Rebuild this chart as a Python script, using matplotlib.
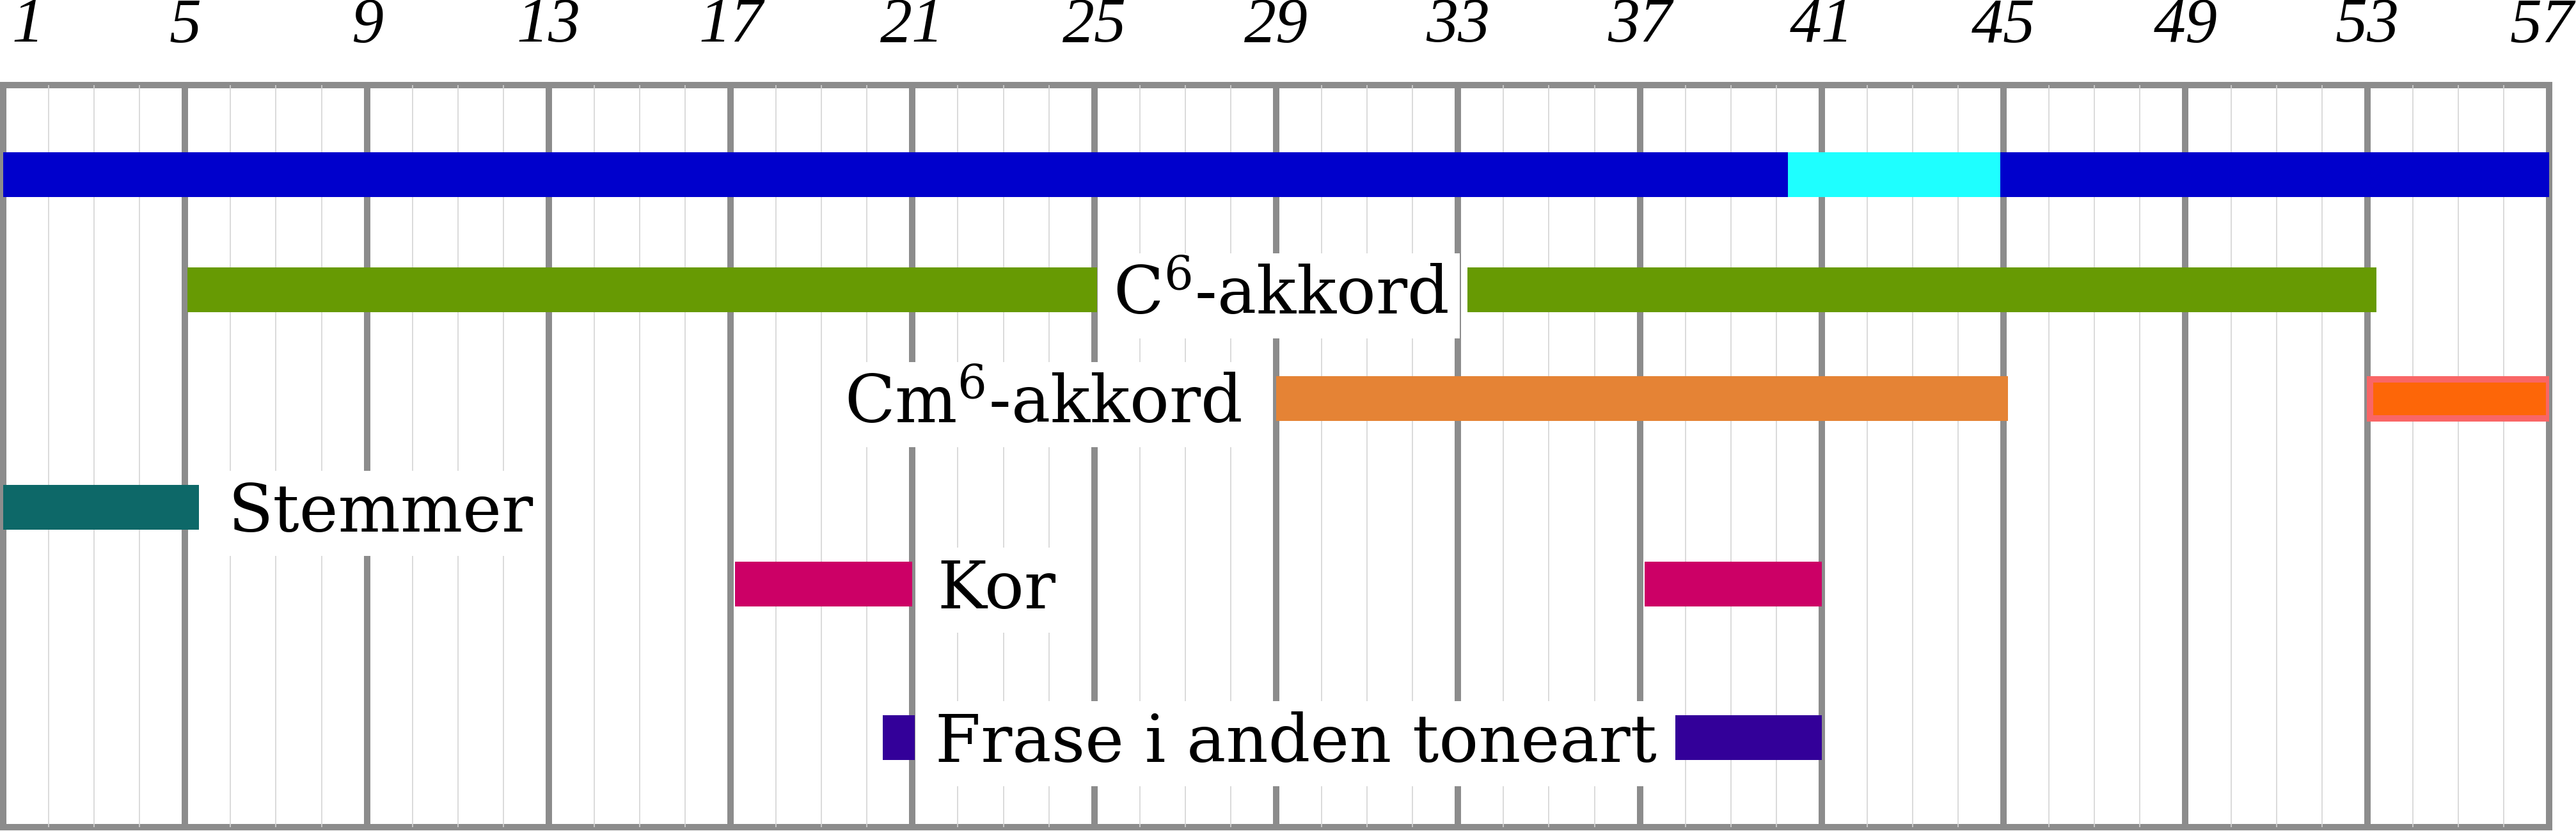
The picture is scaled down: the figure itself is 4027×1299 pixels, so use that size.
import matplotlib
matplotlib.use("Agg")
import matplotlib.pyplot as plt

plt.rcParams['mathtext.fontset'] = 'dejavuserif'

# takter på x-aksen
tick_values = list(range(1, 58, 4))
tick_labels = [str(t) for t in tick_values]
minor_values = list(range(1, 58))

# spans (start, slut) i takter for hver række
hoved_spans = [(1, 40.25), (44.93, 57)]
hoved_alt_spans = [(40.25, 44.93)]
c6_spans = [(5.05, 25.06), (33.2, 53.2)]
cm6_spans = [(29, 45.1)]
cm6_alt_spans = [(53.06, 57)]
stemmer_spans = [(1, 5.3)]
kor_spans = [(17.1, 21.0), (37.1, 41.0)]
frase_spans = [(20.35, 21.05), (37.78, 41.0)]

# etiketter
label_texts = [r"C$^{\mathrm{6}}$-akkord", r"Cm$^{\mathrm{6}}$-akkord", "Stemmer", "Kor", "Frase i anden toneart"]
label_x = [29.1, 28.25, 5.95, 21.55, 21.5]
label_rows = ["c6", "cm6", "stemmer", "kor", "frase"]
label_ha = ["center", "right", "left", "left", "left"]

# lodret placering af rækkerne (fra toppen)
lane_y = {"hoved": 14.0, "c6": 32.0, "cm6": 49.0, "stemmer": 66.0, "kor": 78.0, "frase": 102.0}
bar_h = 7.0
grey = '#8c8c8c'

fig = plt.figure(figsize=(40.27, 12.99), dpi=100)
ax = fig.add_axes([5 / 4027, 6 / 1299, 3980 / 4027, 1160 / 1299])
ax.set_xlim(1, 57)
ax.set_ylim(116, 0)


def bars(spans, row, color, h=bar_h, **kw):
    ax.barh([lane_y[row]] * len(spans), [e - s for s, e in spans], left=[s for s, e in spans],
            height=h, color=color, zorder=3, **kw)


bars(hoved_spans, "hoved", "#0000cc")
bars(hoved_alt_spans, "hoved", "#1effff")
bars(c6_spans, "c6", "#679a03")
bars(cm6_spans, "cm6", "#e58335")
bars(cm6_alt_spans, "cm6", "#fd6608", h=6.1, edgecolor="#f96666", linewidth=7.2)
bars(stemmer_spans, "stemmer", "#0d6868")
bars(kor_spans, "kor", "#cc0066")
bars(frase_spans, "frase", "#330099")

for txt, x, row, ha in zip(label_texts, label_x, label_rows, label_ha):
    ax.text(x, lane_y[row] + 3.8, txt, ha=ha, va='baseline', fontsize=74, family='DejaVu Serif',
            bbox=dict(facecolor='white', edgecolor='none', boxstyle='square,pad=0.17'), zorder=4)

# gitter
ax.set_xticks(tick_values)
ax.set_xticks(minor_values, minor=True)
ax.set_yticks([])
ax.tick_params(axis='x', which='both', length=0, labelbottom=False, labeltop=False)
ax.grid(True, which='major', axis='x', color=grey, lw=7.2)
ax.grid(True, which='minor', axis='x', color='#d4d4d4', lw=1.2)
ax.set_axisbelow(False)
for s in ax.spines.values():
    s.set_color(grey)
    s.set_linewidth(7.2)

# taktnumre foroven
for i, (t, lab) in enumerate(zip(tick_values, tick_labels)):
    ha, dx = 'center', 0
    if i == 0:
        ha, dx = 'left', 10
    elif i == len(tick_values) - 1:
        ha, dx = 'right', 28
    ax.annotate(lab, xy=(t, 1), xycoords=('data', 'axes fraction'), xytext=(dx, 49),
                textcoords='offset points', ha=ha, va='baseline', fontsize=72,
                family='Liberation Serif', style='italic', annotation_clip=False)

fig.savefig("out.png", dpi=100)
